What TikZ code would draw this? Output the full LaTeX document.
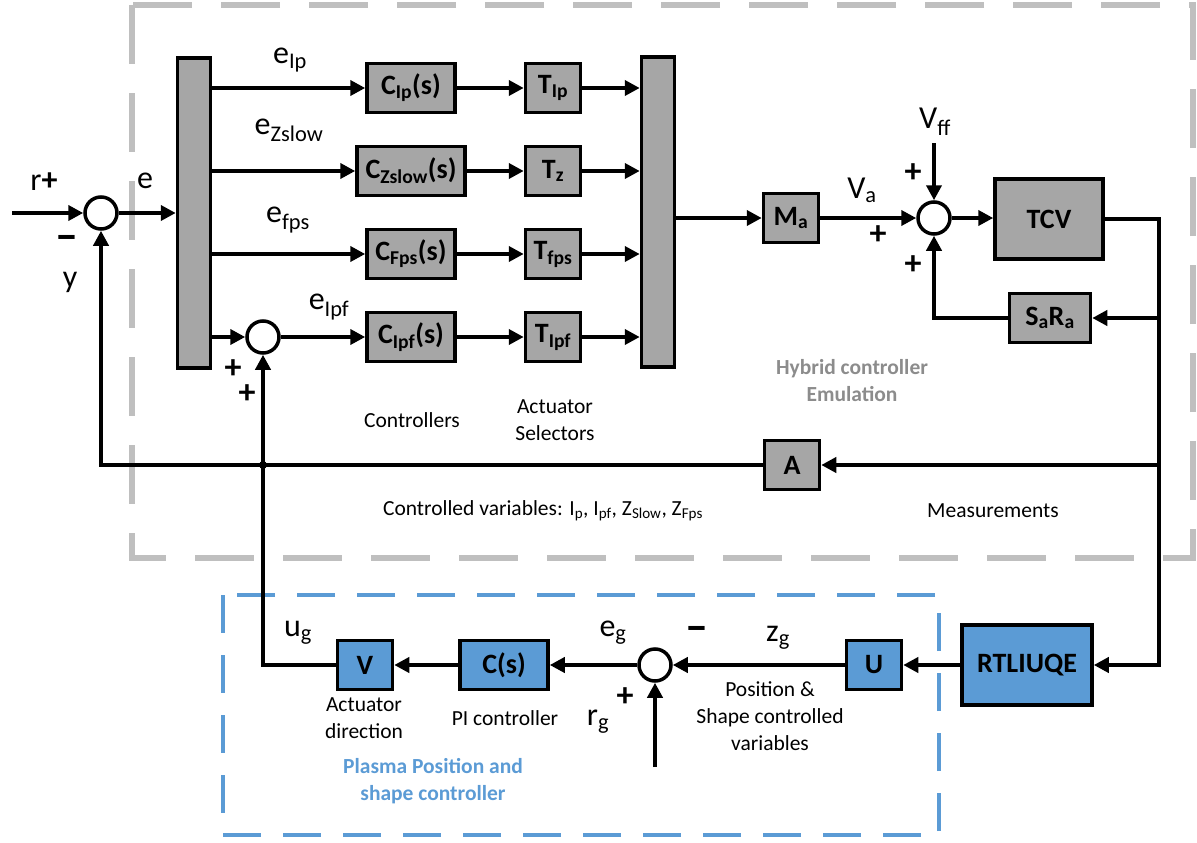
\documentclass[tikz,border=0pt]{standalone}
\usepackage{fontspec}
\setmainfont{Carlito}
\usetikzlibrary{arrows.meta,positioning}
\definecolor{boxgray}{HTML}{A6A6A6}
\definecolor{boxblue}{HTML}{5B9BD5}
\definecolor{framegray}{HTML}{BFBFBF}
\definecolor{labelgray}{HTML}{8C8C8C}

\begin{document}
\begin{tikzpicture}[
    x=1pt, y=-1pt,
    line width=4pt,
    block/.style={draw, fill=boxgray, line width=3.5pt, minimum width=55pt,
                  minimum height=49pt, inner sep=2pt,
                  font=\fontsize{28}{30}\selectfont\bfseries},
    bblock/.style={block, fill=boxblue},
    bar/.style={draw, fill=boxgray, line width=3.5pt, minimum width=33pt,
                minimum height=310pt},
    sum/.style={draw, circle, fill=white, line width=3.5pt, minimum size=32pt,
                inner sep=0pt},
    arrow/.style={-{Triangle[length=15pt,width=15pt]}},
    sig/.style={font=\fontsize{32}{34}\selectfont},
    sign/.style={font=\fontsize{34}{36}\selectfont\bfseries},
    minus/.style={font=\fontsize{46}{48}\selectfont\bfseries},
    note/.style={font=\fontsize{21.5}{27}\selectfont, align=center},
]
  \useasboundingbox (0,0) rectangle (1197,843);

  % Frames
  \draw[framegray, line width=6pt, dash pattern=on 59pt off 29pt]
    (132,5) rectangle (1193,558);
  \draw[boxblue, line width=4pt, dash pattern=on 38pt off 22pt]
    (223,595) rectangle (939,835);

  % Hybrid controller emulation
  \node[sum] (sumE) at (101,213) {};
  \node[bar] (lbar) at (194,213) {};
  \node[sum] (sumF) at (263,337) {};
  \node[block, minimum width=88pt] (Cip) at (411,88) {C\textsubscript{Ip}(s)};
  \node[block, minimum width=108pt] (Czs) at (411,171) {C\textsubscript{Zslow}(s)};
  \node[block, minimum width=88pt] (Cfps) at (411,254) {C\textsubscript{Fps}(s)};
  \node[block, minimum width=88pt] (Cipf) at (411,337) {C\textsubscript{Ipf}(s)};
  \node[block] (Tip) at (553,88) {T\textsubscript{Ip}};
  \node[block] (Tz) at (553,171) {T\textsubscript{z}};
  \node[block] (Tfps) at (553,254) {T\textsubscript{fps}};
  \node[block] (Tipf) at (553,337) {T\textsubscript{Ipf}};
  \node[bar] (rbar) at (658,212) {};
  \node[block] (Ma) at (791,218) {M\textsubscript{a}};
  \node[sum] (sumV) at (934,218) {};
  \node[block, minimum width=108pt, minimum height=80pt] (TCV) at (1049,219) {TCV};
  \node[block, minimum width=81pt] (SaRa) at (1050,318) {S\textsubscript{a}R\textsubscript{a}};
  \node[block] (A) at (792,465) {A};

  % Plasma position and shape controller
  \node[bblock, minimum width=130pt, minimum height=80pt] (RT) at (1027,665) {RTLIUQE};
  \node[bblock] (U) at (874,665) {U};
  \node[sum] (sumG) at (655,665) {};
  \node[bblock, minimum width=88pt] (Cs) at (504,665) {C(s)};
  \node[bblock] (V) at (365,665) {V};

  % Free ends
  \coordinate (rin) at (12,213);
  \coordinate (vffin) at (934,143);
  \coordinate (rgin) at (655,767);
  \coordinate (mline) at (1159,465);

  % Arrows
  \draw[arrow] (rin) -- (sumE.west);
  \draw[arrow] (sumE.east) -- (lbar.west |- sumE);
  \draw[arrow] (lbar.east |- Cip) -- (Cip.west);
  \draw[arrow] (lbar.east |- Czs) -- (Czs.west);
  \draw[arrow] (lbar.east |- Cfps) -- (Cfps.west);
  \draw[arrow] (lbar.east |- sumF) -- (sumF.west);
  \draw[arrow] (sumF.east) -- (Cipf.west);
  \draw[arrow] (Cip) -- (Tip);
  \draw[arrow] (Czs) -- (Tz);
  \draw[arrow] (Cfps) -- (Tfps);
  \draw[arrow] (Cipf) -- (Tipf);
  \draw[arrow] (Tip.east) -- (rbar.west |- Tip);
  \draw[arrow] (Tz.east) -- (rbar.west |- Tz);
  \draw[arrow] (Tfps.east) -- (rbar.west |- Tfps);
  \draw[arrow] (Tipf.east) -- (rbar.west |- Tipf);
  \draw[arrow] (rbar.east |- Ma) -- (Ma.west);
  \draw[arrow] (Ma.east) -- (sumV.west);
  \draw[arrow] (vffin) -- (sumV.north);
  \draw[arrow] (sumV.east) -- (TCV.west |- sumV);
  \draw[arrow] (TCV.east) -| (mline) |- (RT.east);
  \draw[arrow] (SaRa.east -| mline) -- (SaRa.east);
  \draw[arrow] (SaRa.west) -| (sumV.south);
  \draw[arrow] (mline) -- (A.east);
  \draw[arrow] (A.west) -| (sumE.south);
  \draw[arrow] (RT.west) -- (U.east);
  \draw[arrow] (U.west) -- (sumG.east);
  \draw[arrow] (rgin) -- (sumG.south);
  \draw[arrow] (sumG.west) -- (Cs.east);
  \draw[arrow] (Cs.west) -- (V.east);
  \draw[arrow] (V.west) -| (sumF.south);
  \fill (A.west -| sumF) circle (4pt);

  % Signal labels
  \node[sig] (lr) at (44,182) {r\textbf{+}};
  \node[sig] (le) at (145,181) {e};
  \node[minus] (lmy) at (67,243) {–};
  \node[sig] (ly) at (70,282) {y};
  \node[sig] (leip) at (290,60) {e\textsubscript{Ip}};
  \node[sig] (lezs) at (289,130) {e\textsubscript{Zslow}};
  \node[sig] (lefps) at (288,220) {e\textsubscript{fps}};
  \node[sig] (leipf) at (329,307) {e\textsubscript{Ipf}};
  \node[sign] (lpa) at (233,369) {+};
  \node[sign] (lpb) at (247,394) {+};
  \node[sig] (lvff) at (935,122) {V\textsubscript{ff}};
  \node[sig] (lva) at (862,190) {V\textsubscript{a}};
  \node[sign] (lpc) at (913,173) {+};
  \node[sign] (lpd) at (878,235) {+};
  \node[sign] (lpe) at (913,265) {+};
  \node[sig] (lug) at (298,633) {u\textsubscript{g}};
  \node[sig] (leg) at (613,633) {e\textsubscript{g}};
  \node[minus] (lmz) at (697,634) {–};
  \node[sig] (lzg) at (778,638) {z\textsubscript{g}};
  \node[sign] (lpg) at (625,697) {+};
  \node[sig] (lrg) at (598,722) {r\textsubscript{g}};

  % Notes
  \node[note] (nctrl) at (412,420) {Controllers};
  \node[note] (nsel) at (555,420) {Actuator\\Selectors};
  \node[note, font=\fontsize{21.5}{27}\selectfont\bfseries, text=labelgray] (nhyb)
    at (852,381) {Hybrid controller\\Emulation};
  \node[note] (ncv) at (543,511)
    {Controlled variables: I\textsubscript{p}, I\textsubscript{pf}, Z\textsubscript{Slow}, Z\textsubscript{Fps}};
  \node[note] (nmeas) at (993,511) {Measurements};
  \node[note] (nact) at (364,718) {Actuator\\direction};
  \node[note] (npi) at (505,718) {PI controller};
  \node[note] (npos) at (770,716) {Position \&\\Shape controlled\\variables};
  \node[note, font=\fontsize{21.5}{27}\selectfont\bfseries, text=boxblue] (npl)
    at (433,781) {Plasma Position and\\shape controller};
\end{tikzpicture}
\end{document}
